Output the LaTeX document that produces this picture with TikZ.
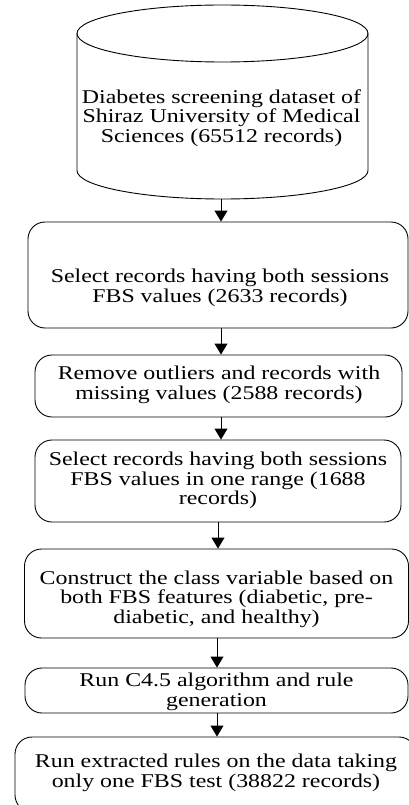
\documentclass[tikz,border=0pt]{standalone}
\usepackage{fontspec}
\setmainfont{Liberation Serif}[FakeStretch=1.225]
\usetikzlibrary{arrows.meta}
\begin{document}
\begin{tikzpicture}[x=1pt,y=-1pt,
  line width=0.9pt,
  stepbox/.style={draw, rounded corners=17pt, inner sep=0pt},
  txt/.style={align=center, inner sep=0pt, font=\fontsize{19.5}{19.5}\selectfont},
  arr/.style={-{Triangle[width=13pt,length=11pt]}}]
\path[use as bounding box, clip] (0,0) rectangle (409,805);
% cylinder
\draw (222.5,33.5) ellipse [x radius=145.5pt, y radius=28.5pt];
\draw (77,33.5) -- (77,170.5) arc[start angle=180, end angle=360, x radius=145.5pt, y radius=28.5pt] -- (368,33.5);
\node[txt] (db) at (221.5,118) {Diabetes screening dataset of\\Shiraz University of Medical\\Sciences (65512 records)};
\coordinate (dbb) at (221,199);
% boxes
\node[stepbox, minimum width=380pt, minimum height=106pt] (b1) at (218,275) {};
\node[stepbox, minimum width=367pt, minimum height=62pt] (b2) at (218.5,386) {};
\node[stepbox, minimum width=366pt, minimum height=82pt] (b3) at (218,481) {};
\node[stepbox, minimum width=384pt, minimum height=89pt] (b4) at (216.5,593.5) {};
\node[stepbox, minimum width=383pt, minimum height=45pt] (b5) at (216.5,690.5) {};
\node[stepbox, minimum width=401pt, minimum height=75pt] (b6) at (215.5,774.5) {};
% texts
\node[txt] (t1) at (220,288) {Select records having both sessions\\FBS values (2633 records)};
\node[txt] (t2) at (219,385) {Remove outliers and records with\\missing values (2588 records)};
\node[txt] (t3) at (218,480.5) {Select records having both sessions\\FBS values in one range (1688\\records)};
\node[txt] (t4) at (216.5,599) {Construct the class variable based on\\both FBS features (diabetic, pre-\\diabetic, and healthy)};
\node[txt] (t5) at (216.5,692) {Run C4.5 algorithm and rule\\generation};
\node[txt] (t6) at (216,773) {Run extracted rules on the data taking\\only one FBS test (38822 records)};
% arrows
\draw[arr] (dbb) -- (dbb |- b1.north);
\draw[arr] ([xshift=3pt]b1.south) -- ([xshift=2.5pt]b2.north);
\draw[arr] ([xshift=2.5pt]b2.south) -- ([xshift=3pt]b3.north);
\draw[arr] ([xshift=0pt]b3.south) -- ([xshift=1.5pt]b4.north);
\draw[arr] ([xshift=0.5pt]b4.south) -- ([xshift=0.5pt]b5.north);
\draw[arr] ([xshift=0.5pt]b5.south) -- ([xshift=1.5pt]b6.north);
\end{tikzpicture}
\end{document}
